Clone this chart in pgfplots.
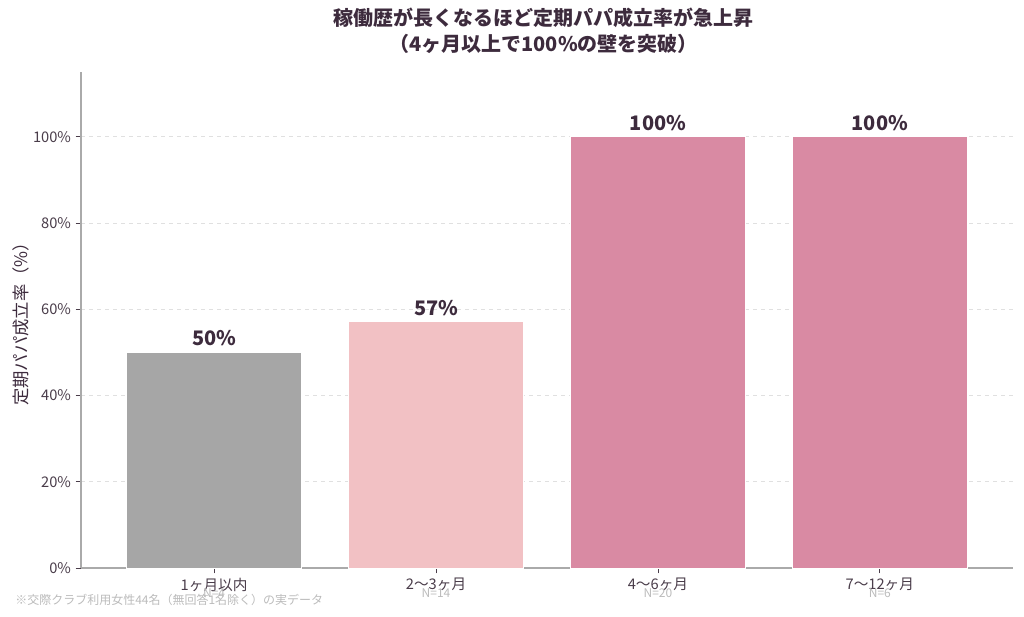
\documentclass[border=0pt]{standalone}
\usepackage{pgfplots}
\pgfplotsset{compat=1.18}
\usepackage{fontspec}
\setmainfont{Noto Sans CJK JP}

\definecolor{txt}{HTML}{3D2B3D}
\definecolor{tick}{HTML}{4A3D4A}
\definecolor{spine}{HTML}{AAAAAA}
\definecolor{gridc}{HTML}{E0E0E0}
\definecolor{note}{HTML}{BBBBBB}
\definecolor{barA}{HTML}{A6A6A6}
\definecolor{barB}{HTML}{F2C1C4}
\definecolor{barC}{HTML}{D98AA3}

\begin{document}
\begin{tikzpicture}
\path[use as bounding box] (-60.75pt,-36.75pt) rectangle (707.25pt,426pt);
\begin{axis}[
    at={(0pt,0pt)}, anchor=south west,
    scale only axis,
    width=699pt, height=372pt,
    xmin=-0.6, xmax=3.6,
    ymin=0, ymax=115,
    ybar, bar width=131pt, bar shift=0pt,
    axis x line*=bottom, axis y line*=left,
    axis line style={draw=spine, line width=0.8pt, -},
    xtick={0,1,2,3},
    xticklabels={1ヶ月以内, 2〜3ヶ月, 4〜6ヶ月, 7〜12ヶ月},
    ytick={0,20,40,60,80,100},
    yticklabels={0\%,20\%,40\%,60\%,80\%,100\%},
    tick align=outside,
    major tick length=4pt,
    tick style={draw=tick, line width=0.6pt},
    ymajorgrids=true,
    grid style={draw=gridc, dashed, line width=0.6pt},
    ticklabel style={font=\fontsize{11}{13}\selectfont, text=tick},
    ylabel={定期パパ成立率（\%）},
    ylabel style={font=\fontsize{13}{15}\selectfont, text=txt, yshift=-4pt},
    nodes near coords={\pgfmathprintnumber[fixed,precision=0]{\pgfplotspointmeta}\%},
    every node near coord/.append style={font=\bfseries\fontsize{15}{18}\selectfont, text=txt, anchor=south, yshift=1pt},
    /pgf/number format/assume math mode=true,
    clip=false,
]
\addplot[fill=barA, draw=white, line width=0.5pt] coordinates {(0,50)};
\addplot[fill=barB, draw=white, line width=0.5pt] coordinates {(1,57.14)};
\addplot[fill=barC, draw=white, line width=0.5pt] coordinates {(2,100)};
\addplot[fill=barC, draw=white, line width=0.5pt] coordinates {(3,100)};
\node[font=\fontsize{9}{11}\selectfont, text=note] at (axis cs:0,0) [yshift=-18.75pt] {N=4};
\node[font=\fontsize{9}{11}\selectfont, text=note] at (axis cs:1,0) [yshift=-18.75pt] {N=14};
\node[font=\fontsize{9}{11}\selectfont, text=note] at (axis cs:2,0) [yshift=-18.75pt] {N=20};
\node[font=\fontsize{9}{11}\selectfont, text=note] at (axis cs:3,0) [yshift=-18.75pt] {N=6};
\end{axis}
\node[font=\bfseries\fontsize{15}{19.5}\selectfont, text=txt, align=center] at (347pt,403pt)
  {稼働歴が長くなるほど定期パパ成立率が急上昇\\（4ヶ月以上で100\%の壁を突破）};
\node[font=\fontsize{9}{11}\selectfont, text=note, anchor=west, inner sep=0pt] at (-49.5pt,-24pt)
  {※交際クラブ利用女性44名（無回答1名除く）の実データ};
\end{tikzpicture}
\end{document}
